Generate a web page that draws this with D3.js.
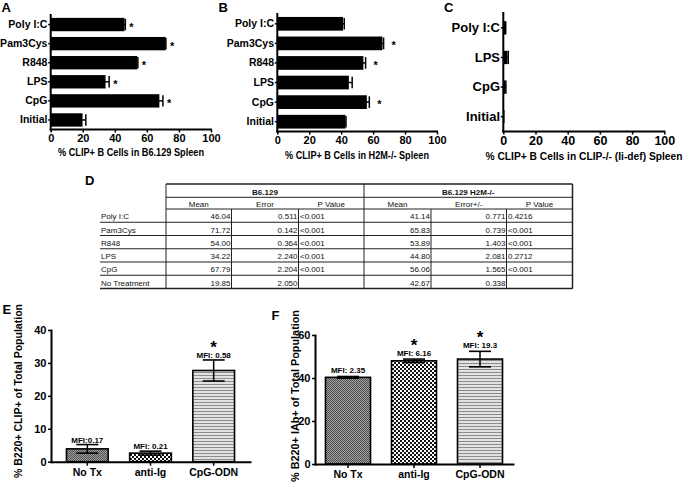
<!DOCTYPE html>
<html><head><meta charset="utf-8">
<script src="https://cdn.jsdelivr.net/npm/d3@7"></script>
<style>
body{margin:0;background:#fff}
svg{display:block}
text{font-family:"Liberation Sans",Arial,sans-serif}
</style>
</head><body>
<svg id="c" width="683" height="482"></svg>
<script>
// ---------- DATA ----------
const abCategories = ["Poly I:C","Pam3Cys","R848","LPS","CpG","Initial"];
const b6Mean = [46.04,71.72,54.00,34.22,67.79,19.85];
const b6Err  = [0.511,0.142,0.364,2.240,2.204,2.050];
const b6P    = ["<0.001","<0.001","<0.001","<0.001","<0.001",""];
const h2mMean = [41.14,65.83,53.89,44.80,56.06,42.67];
const h2mErr  = [0.771,0.739,1.403,2.081,1.565,0.338];
const h2mP    = ["0.4216","<0.001","<0.001","0.2712","<0.001",""];
const aStars = [true,true,true,true,true,false];
const bStars = [false,true,true,false,true,false];
const tableRows = ["Poly I:C","Pam3Cys","R848","LPS","CpG","No Treatment"];
const cCategories = ["Poly I:C","LPS","CpG","Initial"];
const cValues = [1.2,2.6,1.3,0.2];
const cErr    = [0.3,0.5,0.3,0.1];
const hTicks = [0,20,40,60,80,100];
const efCategories = ["No Tx","anti-Ig","CpG-ODN"];
const eValues = [3.9,2.6,27.7];
const eErr    = [1.3,0.6,3.2];
const eMFI    = ["MFI:0.17","MFI: 0.21","MFI: 0.58"];
const eStars  = [false,false,true];
const eTicks  = [0,10,20,30,40];
const fValues = [40.3,48.0,48.8];
const fErr    = [0.4,0.8,3.6];
const fMFI    = ["MFI: 2.35","MFI: 6.16","MFI: 19.3"];
const fStars  = [false,true,true];
const fTicks  = [0,20,40,60];

// ---------- SETUP ----------
const svg = d3.select("#c");
svg.append("rect").attr("width",683).attr("height",482).attr("fill","#fff");
const defs = svg.append("defs");
const p1 = defs.append("pattern").attr("id","pNoTx").attr("width",2).attr("height",2).attr("patternUnits","userSpaceOnUse");
p1.append("rect").attr("width",2).attr("height",2).attr("fill","#a0a0a0");
p1.append("rect").attr("width",1).attr("height",1).attr("fill","#505050");
p1.append("rect").attr("x",1).attr("y",1).attr("width",1).attr("height",1).attr("fill","#505050");
const p2 = defs.append("pattern").attr("id","pAnti").attr("width",4).attr("height",4).attr("patternUnits","userSpaceOnUse");
p2.append("rect").attr("width",4).attr("height",4).attr("fill","#fff");
p2.append("rect").attr("width",2).attr("height",2).attr("fill","#111");
p2.append("rect").attr("x",2).attr("y",2).attr("width",2).attr("height",2).attr("fill","#111");
const p3 = defs.append("pattern").attr("id","pCpG").attr("width",4).attr("height",3).attr("patternUnits","userSpaceOnUse");
p3.append("rect").attr("width",4).attr("height",3).attr("fill","#e2e2e2");
p3.append("rect").attr("width",4).attr("height",1).attr("fill","#8c8c8c");
const efFill = d3.scaleOrdinal().domain(efCategories).range(["url(#pNoTx)","url(#pAnti)","url(#pCpG)"]);

function panelLabel(t,x,y,fs){
  svg.append("text").attr("x",x).attr("y",y).attr("font-size",fs||13).attr("font-weight","bold").attr("fill","#000").text(t);
}
function styleAxis(a,fs){
  a.select(".domain").attr("stroke","#000").attr("stroke-width",2).attr("stroke-linecap","square");
  a.selectAll(".tick line").attr("stroke","#000").attr("stroke-width",1.5);
  a.selectAll(".tick text").attr("font-family","'Liberation Sans',Arial,sans-serif").attr("font-weight","bold").attr("font-size",fs).attr("fill","#000");
}

// ---------- HORIZONTAL PANELS (A,B,C) ----------
function hPanel(o){
  const g = svg.append("g");
  const x = d3.scaleLinear().domain([0,100]).range([o.x0,o.x1]);
  const y = d3.scaleBand().domain(o.cats).range([o.yTop,o.yBot]).paddingInner(o.pad).paddingOuter(o.pad/2);
  const bw = y.bandwidth();
  g.selectAll("rect.bar").data(o.cats).join("rect").attr("class","bar")
    .attr("x",x(0)).attr("y",d=>y(d)).attr("width",(d,i)=>x(o.vals[i])-x(0)).attr("height",bw).attr("fill","#000");
  o.cats.forEach((d,i)=>{
    const cy = y(d)+bw/2, xe = x(o.vals[i]+o.errs[i]);
    g.append("line").attr("x1",x(o.vals[i]-o.errs[i])).attr("x2",xe).attr("y1",cy).attr("y2",cy).attr("stroke","#000").attr("stroke-width",1.5);
    g.append("line").attr("x1",xe).attr("x2",xe).attr("y1",cy-bw*o.cap/2).attr("y2",cy+bw*o.cap/2).attr("stroke","#000").attr("stroke-width",1.5);
    if(o.stars && o.stars[i]){
      g.append("text").attr("x",xe+o.starOff).attr("y",cy+6).attr("font-size",11).attr("font-weight","bold").text("*");
    }
  });
  const ax = g.append("g").attr("transform",`translate(0,${o.yBot})`)
    .call(d3.axisBottom(x).tickValues(hTicks).tickSize(3).tickSizeOuter(0).tickPadding(1.5));
  styleAxis(ax,o.tickFs);
  const ay = g.append("g").attr("transform",`translate(${o.x0},0)`)
    .call(d3.axisLeft(y).tickSize(2.5).tickSizeOuter(0).tickPadding(0.8));
  styleAxis(ay,o.catFs);
  ay.select(".domain").attr("d",`M0,${o.yTop}V${o.yBot}`);
  ax.select(".domain").attr("d",`M${o.x0},0H${o.x1}`);
  g.append("text").attr("x",o.titleX).attr("y",o.titleY).attr("text-anchor","middle")
    .attr("font-size",o.titleFs).attr("font-weight","bold").attr("textLength",o.titleLen).attr("lengthAdjust","spacingAndGlyphs").text(o.title);
}

hPanel({cats:abCategories,vals:b6Mean,errs:b6Err,stars:aStars,x0:50.7,x1:211,yTop:15,yBot:129.5,pad:0.3,cap:0.85,starOff:4,
  tickFs:11,catFs:10.5,title:"% CLIP+ B Cells in B6.129 Spleen",titleX:131,titleY:156,titleFs:10,titleLen:146});
hPanel({cats:abCategories,vals:h2mMean,errs:h2mErr,stars:bStars,x0:277.3,x1:437,yTop:14,yBot:131.5,pad:0.3,cap:0.85,starOff:8,
  tickFs:11,catFs:10.5,title:"% CLIP+ B Cells in H2M-/- Spleen",titleX:357,titleY:158.5,titleFs:10,titleLen:144});
hPanel({cats:cCategories,vals:cValues,errs:cErr,stars:null,x0:503.3,x1:664.3,yTop:13,yBot:131.5,pad:0.55,cap:1.0,starOff:4,
  tickFs:12.5,catFs:13,title:"% CLIP+ B Cells in CLIP-/- (Ii-def) Spleen",titleX:584,titleY:160,titleFs:10,titleLen:197});

panelLabel("A",1.5,12);
panelLabel("B",218.5,12);
panelLabel("C",444,12);

// ---------- TABLE (D) ----------
panelLabel("D",85,185);
const tg = svg.append("g");
const tableCols = ["label","b6Mean","b6Err","b6P","h2Mean","h2Err","h2P"];
const colLeft  = d3.scaleOrdinal().domain(tableCols).range([100,166,231.5,298.5,364,431,506.5]);
const colRight = d3.scaleOrdinal().domain(tableCols).range([166,231.5,298.5,364,431,506.5,572.5]);
const rowY = d3.scaleBand().domain(tableRows).range([209,288.5]);
const rh = rowY.bandwidth();
const tFont = "'DejaVu Sans',Verdana,sans-serif";
function ttext(x,y,t,anchor,bold){
  tg.append("text").attr("x",x).attr("y",y).attr("text-anchor",anchor).attr("font-family",tFont)
    .attr("font-size",8).attr("font-weight",bold?"bold":"normal").attr("fill","#111").text(t);
}
function tline(x1,y1,x2,y2,w){
  tg.append("line").attr("x1",x1).attr("y1",y1).attr("x2",x2).attr("y2",y2).attr("stroke","#222").attr("stroke-width",w||1);
}
const hTop = 184, hMid = 197.3, hBot = 209;
ttext((colLeft("b6Mean")+colRight("b6P"))/2,194.5,"B6.129","middle",true);
ttext((colLeft("h2Mean")+colRight("h2P"))/2,194.5,"B6.129 H2M-/-","middle",true);
const sub = ["Mean","Error","P Value","Mean","Error+/-","P Value"];
tableCols.slice(1).forEach((c,i)=>ttext((colLeft(c)+colRight(c))/2,206.5,sub[i],"middle",false));
tableRows.forEach((r,i)=>{
  const by = rowY(r)+rh-2.8;
  ttext(colLeft("label")+1,by,r,"start");
  ttext(colRight("b6Mean")-1,by,b6Mean[i].toFixed(2),"end");
  ttext(colRight("b6Err")-1,by,b6Err[i].toFixed(3),"end");
  ttext(colLeft("b6P")+1.5,by,b6P[i],"start");
  ttext(colRight("h2Mean")-1,by,h2mMean[i].toFixed(2),"end");
  ttext(colRight("h2Err")-1,by,h2mErr[i].toFixed(3),"end");
  ttext(colLeft("h2P")+1.5,by,h2mP[i],"start");
  tline(colLeft("label"),rowY(r)+rh,colRight("h2P"),rowY(r)+rh,1);
});
tline(colLeft("b6Mean"),hTop,colRight("h2P"),hTop,1.5);
tline(colLeft("b6Mean"),hMid,colRight("h2P"),hMid,1);
tline(colLeft("b6Mean"),hBot,colRight("h2P"),hBot,1);
[colLeft("b6Mean"),colLeft("h2Mean"),colRight("h2P")].forEach(xv=>tline(xv,hTop,xv,hBot,xv===colRight("h2P")?1.5:1));
tableCols.slice(1).forEach(c=>tline(colLeft(c),hBot,colLeft(c),288.5,1));
tline(colRight("h2P"),hBot,colRight("h2P"),288.5,1.5);
tline(colLeft("label"),288.5,colRight("h2P"),288.5,1.5);

// ---------- VERTICAL PANELS (E,F) ----------
function vPanel(o){
  const g = svg.append("g");
  const x = d3.scaleBand().domain(efCategories).range([o.x0,o.x1]).paddingInner(o.pi).paddingOuter(o.po);
  const y = d3.scaleLinear().domain([0,o.ymax]).range([o.yBot,o.yTop]);
  const bw = x.bandwidth();
  g.selectAll("rect.bar").data(efCategories).join("rect").attr("class","bar")
    .attr("x",d=>x(d)).attr("y",(d,i)=>y(o.vals[i])).attr("width",bw).attr("height",(d,i)=>y(0)-y(o.vals[i]))
    .attr("fill",d=>efFill(d)).attr("stroke","#000").attr("stroke-width",1.6);
  efCategories.forEach((d,i)=>{
    const cx = x(d)+bw/2, hi=y(o.vals[i]+o.errs[i]), lo=y(o.vals[i]-o.errs[i]);
    g.append("line").attr("x1",cx).attr("x2",cx).attr("y1",hi).attr("y2",lo).attr("stroke","#000").attr("stroke-width",1.5);
    [hi,lo].forEach(yy=>g.append("line").attr("x1",cx-11).attr("x2",cx+11).attr("y1",yy).attr("y2",yy).attr("stroke","#000").attr("stroke-width",1.6));
    g.append("text").attr("x",cx).attr("y",hi-o.mfiGap).attr("text-anchor","middle").attr("font-size",8).attr("font-weight","bold").text(o.mfi[i]);
    if(o.stars[i]) g.append("text").attr("x",cx).attr("y",hi-o.mfiGap-5).attr("text-anchor","middle").attr("font-size",17).attr("font-weight","bold").text("*");
  });
  const ax = g.append("g").attr("transform",`translate(0,${o.yBot})`)
    .call(d3.axisBottom(x).tickSize(4).tickSizeOuter(0).tickPadding(3));
  styleAxis(ax,10.5);
  const ay = g.append("g").attr("transform",`translate(${o.x0},0)`)
    .call(d3.axisLeft(y).tickValues(o.ticks).tickSize(3).tickSizeOuter(0).tickPadding(1.5));
  styleAxis(ay,11);
  g.append("text").attr("transform",`translate(${o.titleX},${o.titleY}) rotate(-90)`).attr("text-anchor","middle")
    .attr("font-size",10).attr("font-weight","bold").attr("textLength",o.titleLen).attr("lengthAdjust","spacingAndGlyphs").text(o.title);
}
vPanel({vals:eValues,errs:eErr,mfi:eMFI,stars:eStars,ticks:eTicks,ymax:40,x0:51,x1:250,yTop:330,yBot:461.7,pi:0.34,po:0.245,mfiGap:2,
  title:"% B220+ CLIP+ of Total Population",titleX:21.5,titleY:391,titleLen:174});
vPanel({vals:fValues,errs:fErr,mfi:fMFI,stars:fStars,ticks:fTicks,ymax:60,x0:315,x1:513,yTop:335,yBot:464,pi:0.318,po:0.159,mfiGap:3.5,
  title:"% B220+ IAb+ of Total Population",titleX:298.5,titleY:396,titleLen:172});
panelLabel("E",2.5,313.5);
panelLabel("F",271.5,320);
</script>
</body></html>
